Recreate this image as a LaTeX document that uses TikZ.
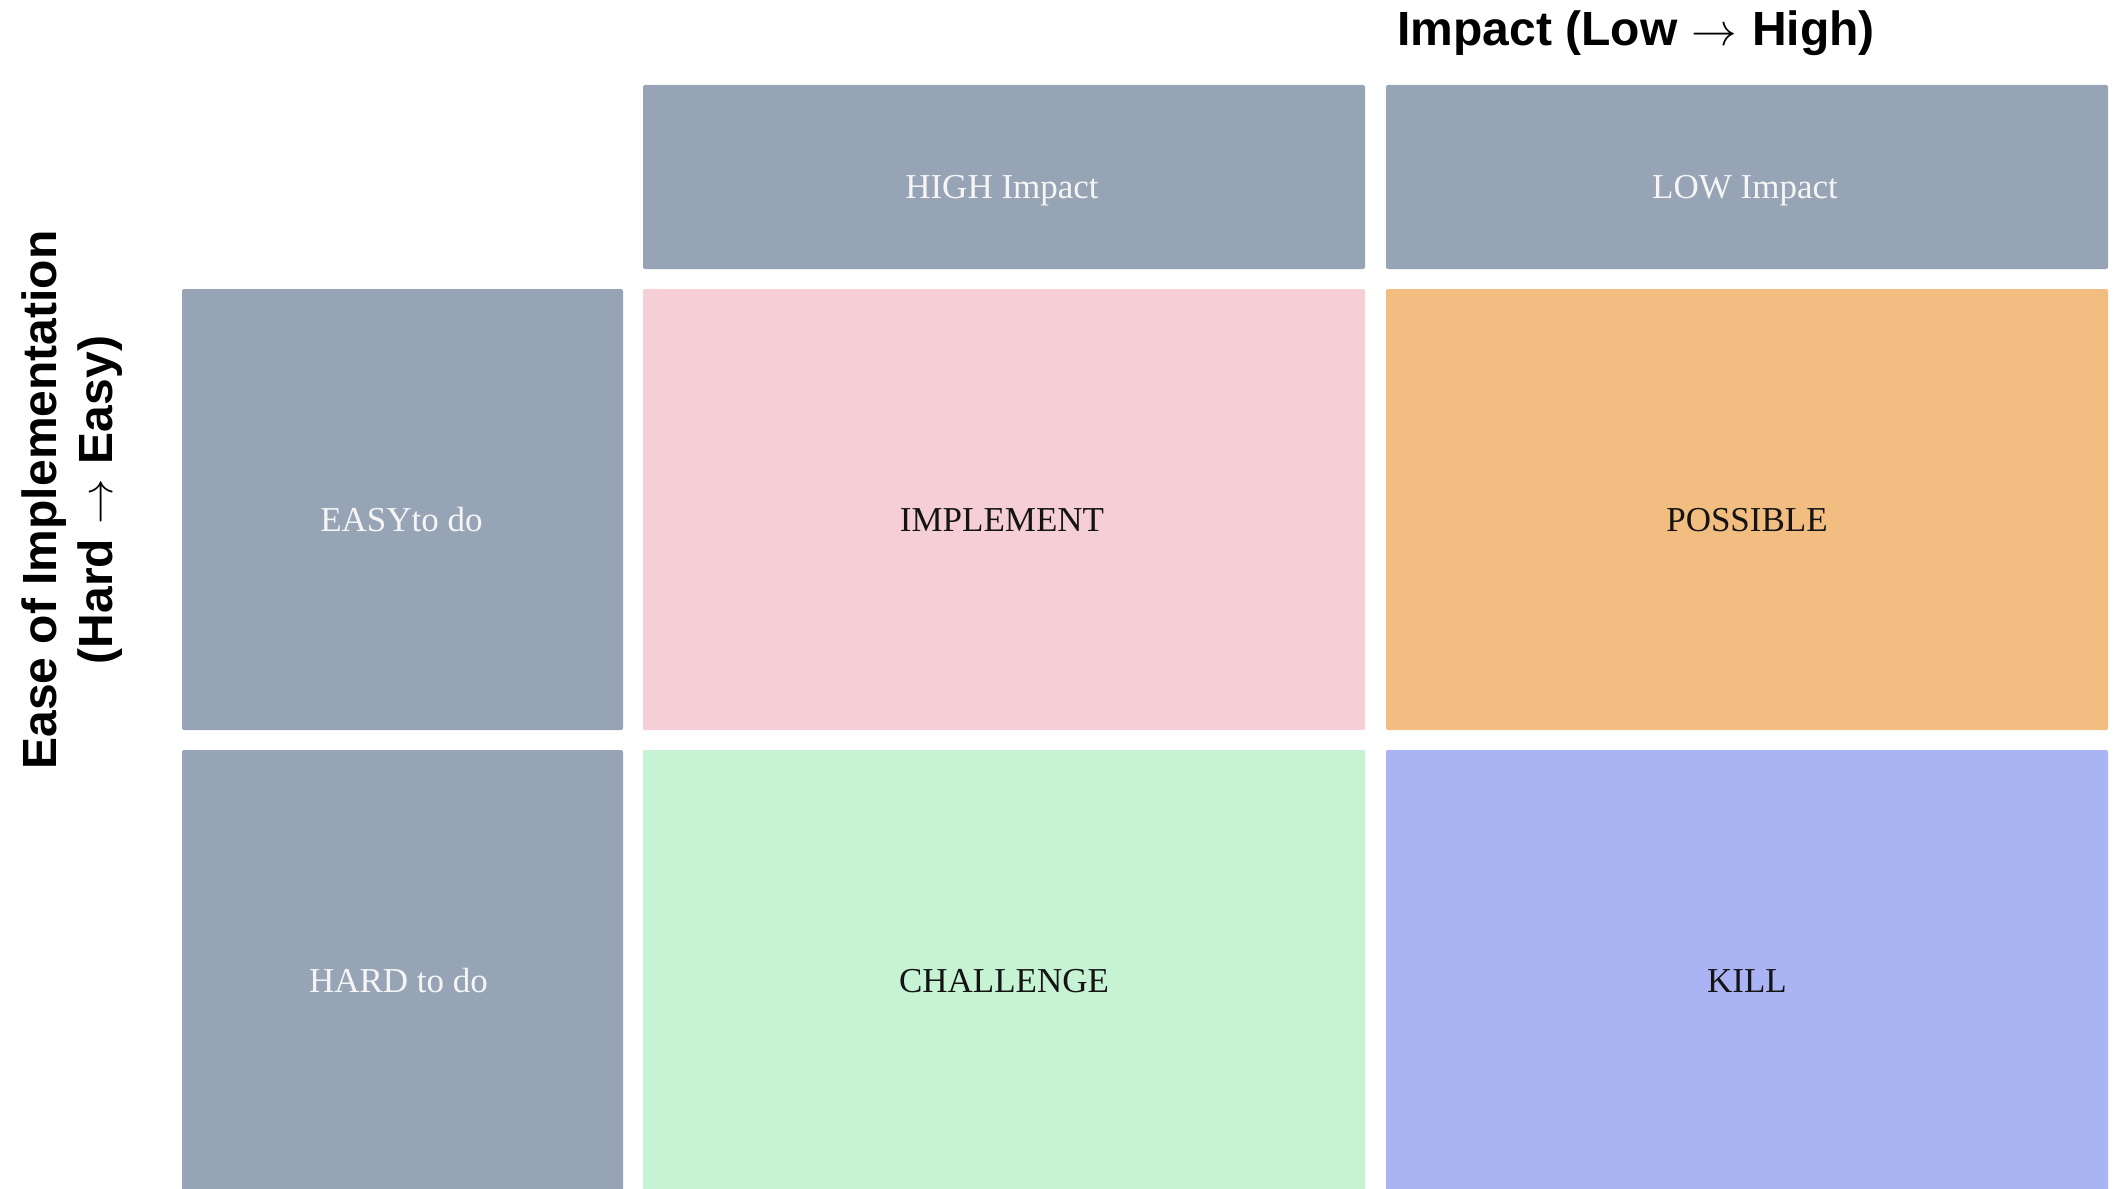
\documentclass[tikz,border=0pt]{standalone}
\usepackage{fontspec}
\setmainfont{Liberation Serif}
\newfontfamily\axisfont{Liberation Sans}
\usetikzlibrary{calc}
\definecolor{hdrgrey}{RGB}{151,164,182}
\definecolor{cpink}{RGB}{245,207,213}
\definecolor{corange}{RGB}{242,189,128}
\definecolor{cgreen}{RGB}{198,243,211}
\definecolor{cblue}{RGB}{170,180,245}
\definecolor{lighttext}{RGB}{245,245,245}
\definecolor{darktext}{RGB}{20,20,20}
\newcommand{\thinarrow}{\makebox[1em]{\resizebox{0.95em}{!}{$\rightarrow$}}}
\tikzset{
  cellbox/.style={rectangle, draw=none, rounded corners=2pt, inner sep=0pt, outer sep=0pt},
  celltext/.style={anchor=base, inner sep=0pt, font=\fontsize{35}{42}\selectfont},
  axistext/.style={anchor=base, inner sep=0pt, font=\axisfont\bfseries\fontsize{48}{55}\selectfont, text=black}
}
\begin{document}
\begin{tikzpicture}[x=1pt,y=-1pt]
\useasboundingbox (0,0) rectangle (2119,1188);
% headers
\node[cellbox, fill=hdrgrey, minimum width=722pt, minimum height=184pt] (hhigh) at (1004,177) {};
\node[cellbox, fill=hdrgrey, minimum width=722pt, minimum height=184pt] (hlow) at (1747,177) {};
% row labels
\node[cellbox, fill=hdrgrey, minimum width=441pt, minimum height=441pt] (reasy) at (402.5,509.5) {};
\node[cellbox, fill=hdrgrey, minimum width=441pt, minimum height=441pt] (rhard) at (402.5,970.5) {};
% quadrants
\node[cellbox, fill=cpink, minimum width=722pt, minimum height=441pt] (impl) at (1004,509.5) {};
\node[cellbox, fill=corange, minimum width=722pt, minimum height=441pt] (poss) at (1747,509.5) {};
\node[cellbox, fill=cgreen, minimum width=722pt, minimum height=441pt] (chal) at (1004,970.5) {};
\node[cellbox, fill=cblue, minimum width=722pt, minimum height=441pt] (kill) at (1747,970.5) {};
% texts
\node[celltext, text=lighttext] (thigh) at ($(hhigh.center)+(-2,21.5)$) {HIGH Impact};
\node[celltext, text=lighttext] (tlow) at ($(hlow.center)+(-2,21.5)$) {LOW Impact};
\node[celltext, text=lighttext] (teasy) at ($(reasy.center)+(-1,21.5)$) {EASYto do};
\node[celltext, text=lighttext] (thard) at ($(rhard.center)+(-4,21.5)$) {HARD to do};
\node[celltext, text=darktext] (timpl) at ($(impl.center)+(-2,21.5)$) {IMPLEMENT};
\node[celltext, text=darktext] (tposs) at ($(poss.center)+(0,21.5)$) {POSSIBLE};
\node[celltext, text=darktext] (tchal) at ($(chal.center)+(0,21.5)$) {CHALLENGE};
\node[celltext, text=darktext] (tkill) at ($(kill.center)+(0,21.5)$) {KILL};
% axis titles
\node[axistext] (xaxis) at (1636,46) {Impact (Low \thinarrow{} High)};
\node[axistext, rotate=90] (yaxis1) at (56,500) {Ease of Implementation};
\node[axistext, rotate=90] (yaxis2) at (112,500) {(Hard \thinarrow{} Easy)};
\end{tikzpicture}
\end{document}
